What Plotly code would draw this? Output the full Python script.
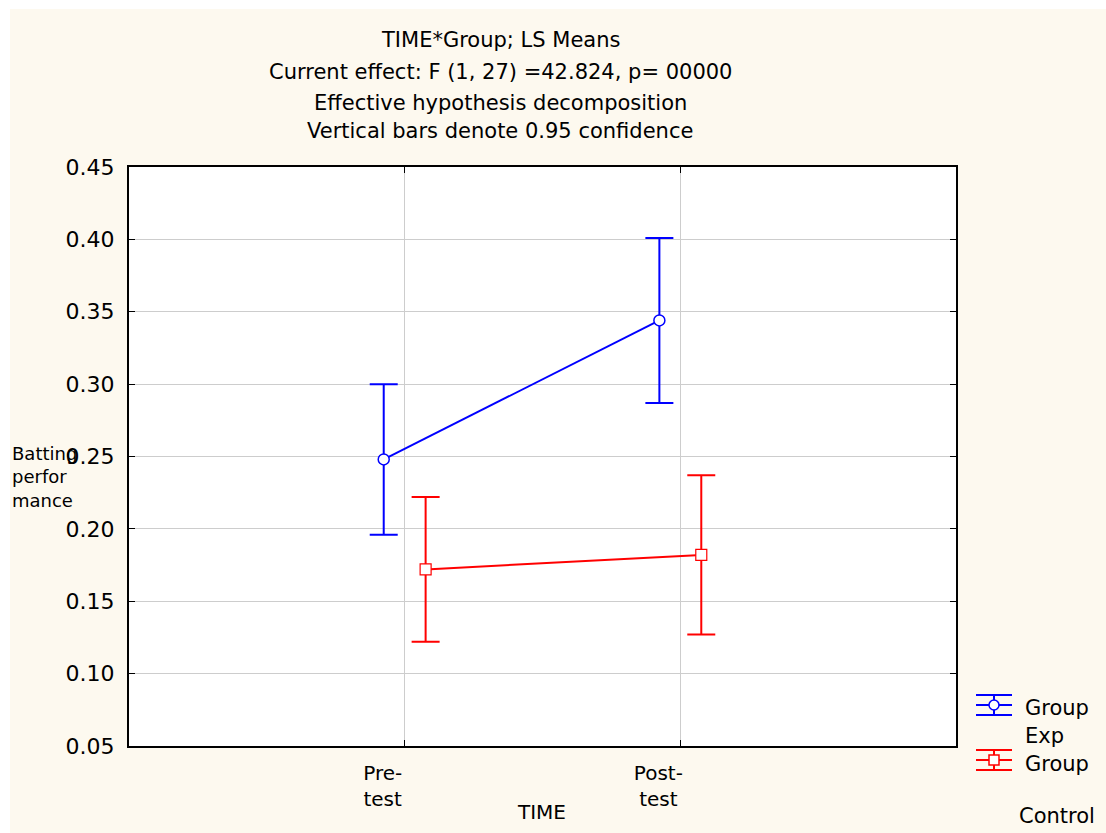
import plotly.graph_objects as go

# LS means and 95% confidence half-widths for batting performance
time_labels = ["Pre-<br>test", "Post-<br>test"]
time_pos = [0, 1]
exp_means = [0.248, 0.344]
exp_ci = [0.052, 0.057]
ctrl_means = [0.172, 0.182]
ctrl_ci = [0.050, 0.055]
offset = 0.076

FONT = "DejaVu Sans"
W, H = 1106, 833
L, R, T, B = 129, 956, 167, 746  # plot area in pixels


def xp(px):
    return (px - L) / (R - L)


def yp(py):
    return (B - py) / (B - T)


fig = go.Figure()

fig.add_trace(go.Scatter(
    x=[p - offset for p in time_pos], y=exp_means,
    mode="lines+markers",
    line=dict(color="#0000FF", width=2),
    marker=dict(symbol="circle", size=11, color="white",
                line=dict(color="#0000FF", width=1.5)),
    error_y=dict(type="data", array=exp_ci, color="#0000FF",
                 thickness=2, width=14),
    showlegend=False,
))

fig.add_trace(go.Scatter(
    x=[p + offset for p in time_pos], y=ctrl_means,
    mode="lines+markers",
    line=dict(color="#FF0000", width=2),
    marker=dict(symbol="square", size=11, color="white",
                line=dict(color="#FF0000", width=1.2)),
    error_y=dict(type="data", array=ctrl_ci, color="#FF0000",
                 thickness=2, width=14),
    showlegend=False,
))

shapes = [
    # cream page panel
    dict(type="rect", xref="paper", yref="paper", layer="below",
         x0=xp(10), x1=xp(W), y0=yp(H), y1=yp(9),
         fillcolor="#FDF9EF", line=dict(width=0)),
    # white plot area
    dict(type="rect", xref="paper", yref="paper", layer="below",
         x0=0, x1=1, y0=0, y1=1, fillcolor="white", line=dict(width=0)),
]


# legend glyphs: error-bar style keys
def legend_key(cy, color, kind):
    return [
        dict(type="line", xref="paper", yref="paper",
             x0=xp(976), x1=xp(1012), y0=yp(cy - 10), y1=yp(cy - 10),
             line=dict(color=color, width=2)),
        dict(type="line", xref="paper", yref="paper",
             x0=xp(976), x1=xp(1012), y0=yp(cy + 10), y1=yp(cy + 10),
             line=dict(color=color, width=2)),
        dict(type="line", xref="paper", yref="paper",
             x0=xp(976), x1=xp(1012), y0=yp(cy), y1=yp(cy),
             line=dict(color=color, width=2)),
        dict(type="line", xref="paper", yref="paper",
             x0=xp(994), x1=xp(994), y0=yp(cy - 10), y1=yp(cy + 10),
             line=dict(color=color, width=2)),
        dict(type=kind, xref="paper", yref="paper",
             x0=xp(989), x1=xp(999), y0=yp(cy - 5), y1=yp(cy + 5),
             fillcolor="white", line=dict(color=color, width=1.5)),
    ]


shapes += legend_key(705, "#0000FF", "circle")
shapes += legend_key(760, "#FF0000", "rect")

annotations = []
title_lines = [
    ("TIME*Group; LS Means", 40),
    ("Current effect: F (1, 27) =42.824, p= 00000", 72),
    ("Effective hypothesis decomposition", 103),
    ("Vertical bars denote 0.95 confidence", 131),
]
for txt, py in title_lines:
    annotations.append(dict(text=txt, xref="paper", yref="paper",
                            x=xp(500), y=yp(py), xanchor="center",
                            yanchor="middle", showarrow=False,
                            font=dict(family=FONT, size=21, color="black")))

annotations.append(dict(text="Batting<br>perfor<br>mance", xref="paper",
                        yref="paper", x=xp(10), y=yp(477), xanchor="left",
                        yanchor="middle", align="left", showarrow=False,
                        font=dict(family=FONT, size=18, color="black")))

# x-axis title
annotations.append(dict(text="TIME", xref="paper", yref="paper",
                        x=xp(541), y=yp(812), xanchor="center",
                        yanchor="middle", showarrow=False,
                        font=dict(family=FONT, size=20, color="black")))

for txt, px, py in [("Group", 1023, 708), ("Exp", 1023, 736),
                    ("Group", 1023, 764), ("Control", 1017, 816)]:
    annotations.append(dict(text=txt, xref="paper", yref="paper",
                            x=xp(px), y=yp(py), xanchor="left",
                            yanchor="middle", showarrow=False,
                            font=dict(family=FONT, size=21, color="black")))

fig.update_layout(
    width=W, height=H, autosize=False,
    margin=dict(l=L, r=W - R, t=T, b=H - B, pad=0),
    paper_bgcolor="white",
    plot_bgcolor="rgba(0,0,0,0)",
    font=dict(family=FONT, size=20, color="black"),
    shapes=shapes,
    annotations=annotations,
    xaxis=dict(
        range=[-1, 2], tickvals=time_pos, ticktext=time_labels,
        automargin=False,
        showgrid=True, gridcolor="#CDCDCD", gridwidth=1, zeroline=False,
        showline=True, linecolor="black", linewidth=2, mirror="allticks",
        ticks="inside", ticklen=6, tickcolor="black", tickwidth=1,
        ticklabelshift=-22, ticklabelstandoff=8,
        tickfont=dict(family=FONT, size=20),
    ),
    yaxis=dict(
        range=[0.05, 0.45], dtick=0.05, tick0=0.05, tickformat=".2f",
        automargin=False,
        showgrid=True, gridcolor="#CDCDCD", gridwidth=1, zeroline=False,
        showline=True, linecolor="black", linewidth=2, mirror="allticks",
        ticks="inside", ticklen=6, tickcolor="black", tickwidth=1,
        ticklabelstandoff=8,
        tickfont=dict(family=FONT, size=22),
    ),
)

fig.write_html("out.html")
